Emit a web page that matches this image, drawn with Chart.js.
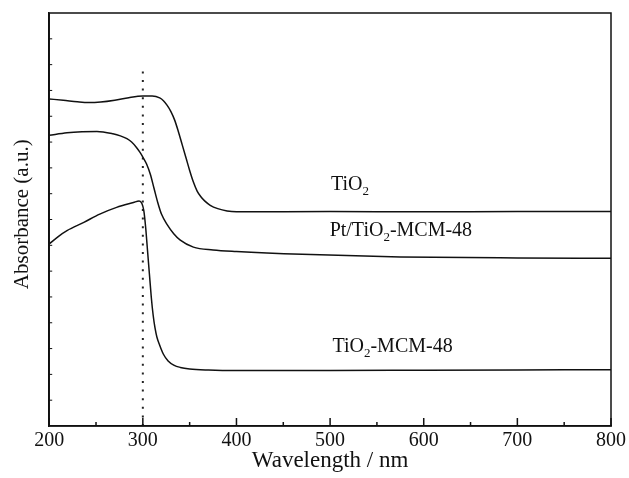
<!DOCTYPE html>
<html>
<head>
<meta charset="utf-8">
<script src="https://cdn.jsdelivr.net/npm/chart.js@4.4.1/dist/chart.umd.min.js"></script>
<style>
  html, body { margin: 0; padding: 0; background: #fff; }
  #wrap { width: 629px; height: 478px; }
</style>
</head>
<body>
<div id="wrap"><canvas id="chart"></canvas></div>
<script>
// UV-vis spectra (wavelength in nm, absorbance in arbitrary units)
const tio2Wl = [200, 215, 230, 242, 255, 270, 285, 300, 310, 318, 322, 326, 330, 334, 338, 342, 346, 350, 354, 358, 362, 366, 372, 380, 390, 400, 500, 600, 700, 800];
const tio2Abs = [12.67, 12.62, 12.56, 12.53, 12.55, 12.62, 12.72, 12.78, 12.78, 12.71, 12.6, 12.42, 12.18, 11.85, 11.4, 10.9, 10.4, 9.9, 9.45, 9.1, 8.88, 8.72, 8.55, 8.42, 8.33, 8.30, 8.31, 8.30, 8.31, 8.31];

const ptWl = [200, 219, 235, 251, 268, 276, 283, 288, 293, 297, 300, 304, 308, 312, 316, 320, 326, 333, 340, 354, 375, 400, 470, 575, 700, 800];
const ptAbs = [11.26, 11.36, 11.40, 11.41, 11.32, 11.24, 11.13, 11.0, 10.8, 10.6, 10.42, 10.15, 9.75, 9.2, 8.65, 8.2, 7.8, 7.45, 7.2, 6.93, 6.82, 6.76, 6.65, 6.55, 6.51, 6.5];

const mcmWl = [200, 210, 219, 237, 254, 272, 290, 296, 299, 301, 303, 305, 307, 309, 311, 313, 315, 318, 322, 327, 333, 340, 350, 370, 400, 500, 600, 700, 800];
const mcmAbs = [7.05, 7.35, 7.57, 7.89, 8.21, 8.47, 8.66, 8.72, 8.62, 8.35, 7.7, 6.8, 5.9, 5.0, 4.3, 3.8, 3.45, 3.13, 2.78, 2.52, 2.36, 2.27, 2.21, 2.17, 2.15, 2.15, 2.16, 2.17, 2.18];

// dotted guide at 300 nm
const guideWl = [300, 300];
const guideAbs = [0, 14];

const xTicks = [200, 300, 400, 500, 600, 700, 800];
const xMinorTicks = [250, 350, 450, 550, 650, 750];
const yTicks = [1, 2, 3, 4, 5, 6, 7, 8, 9, 10, 11, 12, 13, 14, 15];

// curve labels: [main text, subscript, rest], anchor wavelength, absorbance of baseline
const labelParts = [["Ti", "O", "2", ""], ["Pt/Ti", "O", "2", "-MCM-48"], ["Ti", "O", "2", "-MCM-48"]];
const labelWl = [501, 499.5, 502.5];
const labelAbs = [9.14, 7.36, 2.88];

const serif = '"Liberation Serif", "Times New Roman", serif';

function pts(xs, ys) {
    return xs.map((x, i) => ({ x: x, y: ys[i] }));
}

const lineStyle = {
    borderColor: '#111',
    borderWidth: 1.5,
    pointRadius: 0,
    fill: false,
    cubicInterpolationMode: 'monotone'
};

// 틀, 안쪽 눈금, 곡선 이름
const decorations = {
    id: 'decorations',
    afterDraw(chart) {
        const ctx = chart.ctx;
        const a = chart.chartArea;
        const xs = chart.scales.x;
        const ys = chart.scales.y;
        ctx.save();
        ctx.strokeStyle = '#111';
        ctx.lineWidth = 1.5;
        ctx.strokeRect(a.left, a.top, a.right - a.left, a.bottom - a.top);

        ctx.beginPath();
        xTicks.forEach(v => {
            const px = xs.getPixelForValue(v);
            ctx.moveTo(px, a.bottom);
            ctx.lineTo(px, a.bottom - 8);
        });
        xMinorTicks.forEach(v => {
            const px = xs.getPixelForValue(v);
            ctx.moveTo(px, a.bottom);
            ctx.lineTo(px, a.bottom - 4);
        });
        ctx.stroke();

        ctx.lineWidth = 1;
        ctx.beginPath();
        yTicks.forEach(v => {
            const py = ys.getPixelForValue(v);
            ctx.moveTo(a.left, py);
            ctx.lineTo(a.left + 3, py);
        });
        ctx.stroke();

        ctx.fillStyle = '#111';
        ctx.textBaseline = 'alphabetic';
        ctx.textAlign = 'left';
        labelParts.forEach((parts, i) => {
            let px = xs.getPixelForValue(labelWl[i]);
            const py = ys.getPixelForValue(labelAbs[i]);
            ctx.font = '20px ' + serif;
            ctx.fillText(parts[0] + parts[1], px, py);
            px += ctx.measureText(parts[0] + parts[1]).width;
            ctx.font = '13px ' + serif;
            ctx.fillText(parts[2], px, py + 5);
            px += ctx.measureText(parts[2]).width;
            ctx.font = '20px ' + serif;
            ctx.fillText(parts[3], px, py);
        });
        ctx.restore();
    }
};

new Chart(document.getElementById('chart'), {
    type: 'line',
    data: {
        datasets: [
            Object.assign({ label: 'TiO2', data: pts(tio2Wl, tio2Abs) }, lineStyle),
            Object.assign({ label: 'Pt/TiO2-MCM-48', data: pts(ptWl, ptAbs) }, lineStyle),
            Object.assign({ label: 'TiO2-MCM-48', data: pts(mcmWl, mcmAbs) }, lineStyle),
            {
                label: 'guide',
                data: pts(guideWl, guideAbs),
                borderColor: '#222',
                borderWidth: 2,
                borderDash: [2, 6.6],
                pointRadius: 0,
                fill: false
            }
        ]
    },
    options: {
        responsive: true,
        maintainAspectRatio: false,
        animation: false,
        layout: { padding: { left: 10, top: 13, right: 0, bottom: 6 } },
        plugins: {
            legend: { display: false },
            tooltip: { enabled: false }
        },
        scales: {
            x: {
                type: 'linear',
                min: 200,
                max: 800,
                afterBuildTicks: axis => { axis.ticks = xTicks.map(v => ({ value: v })); },
                ticks: {
                    color: '#111',
                    padding: 3,
                    font: { family: serif, size: 20 },
                    maxRotation: 0
                },
                grid: { display: false, drawTicks: false },
                border: { display: true, color: '#111', width: 1.5 },
                title: {
                    display: true,
                    text: 'Wavelength / nm',
                    color: '#111',
                    font: { family: serif, size: 23, lineHeight: 1 },
                    padding: { top: -7, bottom: 0 }
                }
            },
            y: {
                type: 'linear',
                min: 0,
                max: 16,
                ticks: { display: false },
                grid: { display: false, drawTicks: false },
                border: { display: true, color: '#111', width: 1.5 },
                title: {
                    display: true,
                    text: '\u2002Absorbance (a.u.)',
                    color: '#111',
                    font: { family: serif, size: 21, lineHeight: 1.2 },
                    padding: { top: 0, bottom: 14 }
                }
            }
        }
    },
    plugins: [decorations]
});
</script>
</body>
</html>
